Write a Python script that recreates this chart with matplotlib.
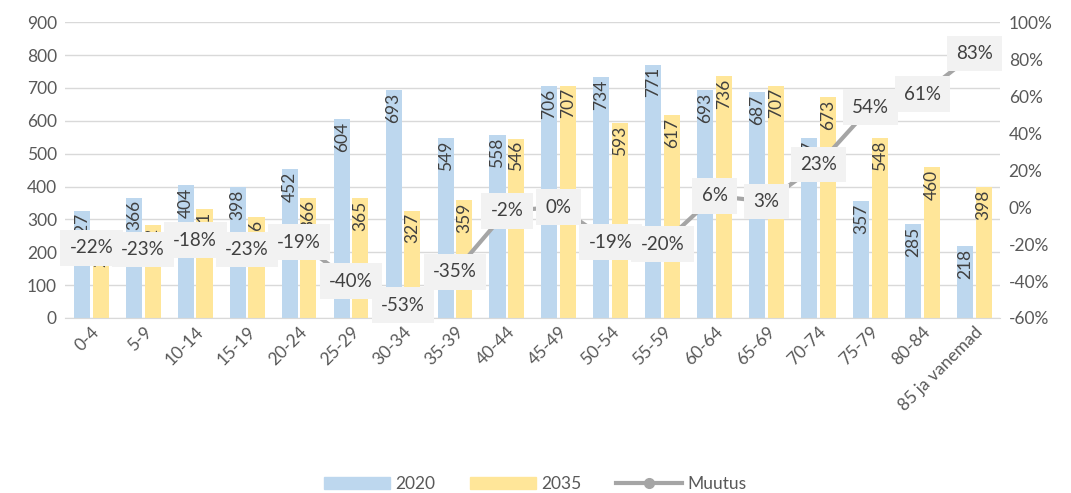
import numpy as np
import matplotlib.pyplot as plt
from matplotlib.patches import Patch
from matplotlib.lines import Line2D

plt.rcParams['font.family'] = ['Lato', 'DejaVu Sans']

vanused = ['0-4', '5-9', '10-14', '15-19', '20-24', '25-29', '30-34', '35-39',
           '40-44', '45-49', '50-54', '55-59', '60-64', '65-69', '70-74', '75-79',
           '80-84', '85 ja vanemad']
v2020 = [327, 366, 404, 398, 452, 604, 693, 549, 558, 706, 734, 771, 693, 687, 547, 357, 285, 218]
v2035 = [255, 282, 331, 306, 366, 365, 327, 359, 546, 707, 593, 617, 736, 707, 673, 548, 460, 398]
muutus = [-22, -23, -18, -23, -19, -40, -53, -35, -2, 0, -19, -20, 6, 3, 23, 54, 61, 83]

c_sin = '#BDD7EE'
c_kol = '#FFE699'
c_hall = '#A5A5A5'
c_tekst = '#595959'

fig = plt.figure(figsize=(10.71, 4.93), dpi=100)
ax = fig.add_axes([0.061, 0.355, 0.873, 0.6])
ax2 = ax.twinx()

x = np.arange(len(vanused))
w = 0.31
b1 = ax.bar(x - 0.18, v2020, w, color=c_sin, zorder=2)
b2 = ax.bar(x + 0.18, v2035, w, color=c_kol, zorder=2)

# väärtused tulpade sees, ülaservas
for bars, vals in ((b1, v2020), (b2, v2035)):
    for r, v in zip(bars, vals):
        ax.text(r.get_x() + r.get_width() / 2, v - 8, str(v), rotation=90,
                ha='center', va='top', fontsize=12.5, color='#404040', zorder=3)

ax.set_ylim(0, 900)
ax.set_yticks(range(0, 901, 100))
ax.set_xlim(-0.5, len(vanused) - 0.5)
ax.set_xticks(x)
ax.set_xticklabels(vanused, rotation=45, ha='right', rotation_mode='anchor')
ax.grid(axis='y', color='#D9D9D9', lw=1, zorder=0)
ax.set_axisbelow(True)

ax2.plot(x, muutus, color=c_hall, lw=3, marker='o', ms=7, zorder=4)
for xi, m in zip(x, muutus):
    ax2.text(xi, m, f'{m}%', ha='center', va='center', fontsize=13.5, color='#404040',
             bbox=dict(boxstyle='square,pad=0.5', fc='#F2F2F2', ec='none'), zorder=5)
ax2.set_ylim(-60, 100)
ax2.set_yticks(range(-60, 101, 20))
ax2.set_yticklabels([f'{t}%' for t in range(-60, 101, 20)])

for a in (ax, ax2):
    for s in a.spines.values():
        s.set_visible(False)
    a.tick_params(length=0, labelsize=12.5, labelcolor=c_tekst)
ax.spines['bottom'].set_visible(True)
ax.spines['bottom'].set_color('#D9D9D9')
ax.tick_params(axis='x', pad=4)
ax.tick_params(axis='y', pad=6)
ax2.tick_params(axis='y', pad=6)
ax2.set_zorder(ax.get_zorder() + 1)
ax2.patch.set_visible(False)

handles = [Patch(color=c_sin), Patch(color=c_kol),
           Line2D([], [], color=c_hall, lw=3, marker='o', ms=7)]
fig.legend(handles, ['2020', '2035', 'Muutus'], loc='lower center', ncol=3,
           bbox_to_anchor=(0.5, -0.03), frameon=False, fontsize=12.5,
           labelcolor=c_tekst, handlelength=3.8, columnspacing=2.0, handletextpad=0.3)

fig.savefig('out.png', dpi=100)
